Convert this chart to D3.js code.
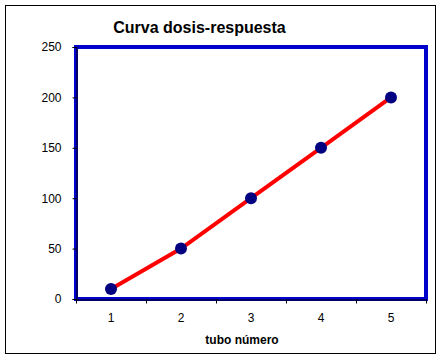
<!DOCTYPE html>
<meta charset="utf-8">
<style>
body { margin: 0; background: #fff; }
text { font-family: Arial, "Liberation Sans", sans-serif; }
</style>
<body>
<script src="https://cdn.jsdelivr.net/npm/d3@7"></script>
<script>

var tubes = ["1", "2", "3", "4", "5"],
    respuesta = [10, 50, 100, 150, 200],
    yTicks = [0, 50, 100, 150, 200, 250];

var w = 443, h = 360,
    plotLeft = 76, plotRight = 426, plotTop = 47, plotBottom = 299;

var svg = d3.select("body").append("svg")
    .attr("width", w)
    .attr("height", h);

svg.append("rect")
    .attr("x", 5.5).attr("y", 5.5)
    .attr("width", 430).attr("height", 348)
    .attr("fill", "#fff")
    .attr("stroke", "#000");

var x = d3.scaleBand().domain(tubes).range([plotLeft, plotRight]);
var y = d3.scaleLinear().domain([0, 250]).range([plotBottom, plotTop]);

// plot area frame
svg.append("rect")
    .attr("x", plotLeft).attr("y", plotTop)
    .attr("width", plotRight - plotLeft).attr("height", plotBottom - plotTop)
    .attr("fill", "none")
    .attr("stroke", "#0000cc")
    .attr("stroke-width", 4);

var yAxis = svg.append("g")
    .attr("transform", "translate(" + (plotLeft + 0.5) + ",0)")
    .call(d3.axisLeft(y).tickValues(yTicks).tickSize(4).tickPadding(11));

var xAxis = svg.append("g")
    .attr("transform", "translate(0," + (plotBottom + 0.5) + ")")
    .call(d3.axisBottom(x).tickSize(0).tickPadding(14));

// category boundary ticks
xAxis.selectAll(".bound")
    .data(d3.range(tubes.length + 1))
  .enter().append("line")
    .attr("class", "bound")
    .attr("x1", function(i) { return plotLeft + 0.5 + i * x.step(); })
    .attr("x2", function(i) { return plotLeft + 0.5 + i * x.step(); })
    .attr("y1", 0).attr("y2", 4)
    .attr("stroke", "#000");

svg.selectAll(".domain").attr("stroke", "#000");
svg.selectAll(".tick line").attr("stroke", "#000");
svg.selectAll(".tick text")
    .attr("fill", "#000")
    .style("font-size", "12px")
    .style("font-family", "Arial, 'Liberation Sans', sans-serif");

var line = d3.line()
    .x(function(d, i) { return x(tubes[i]) + x.bandwidth() / 2; })
    .y(function(d) { return y(d); });

svg.append("path")
    .datum(respuesta)
    .attr("d", line)
    .attr("fill", "none")
    .attr("stroke", "#ff0000")
    .attr("stroke-width", 4);

svg.selectAll(".pt")
    .data(respuesta)
  .enter().append("circle")
    .attr("class", "pt")
    .attr("cx", function(d, i) { return x(tubes[i]) + x.bandwidth() / 2; })
    .attr("cy", function(d) { return y(d); })
    .attr("r", 6)
    .attr("fill", "#000080");

svg.append("text")
    .attr("x", 199.5).attr("y", 33)
    .attr("text-anchor", "middle")
    .style("font-size", "16px")
    .style("font-weight", "bold")
    .text("Curva dosis-respuesta");

svg.append("text")
    .attr("x", 242).attr("y", 344)
    .attr("text-anchor", "middle")
    .style("font-size", "12px")
    .style("font-weight", "bold")
    .text("tubo número");

</script>
</body>
